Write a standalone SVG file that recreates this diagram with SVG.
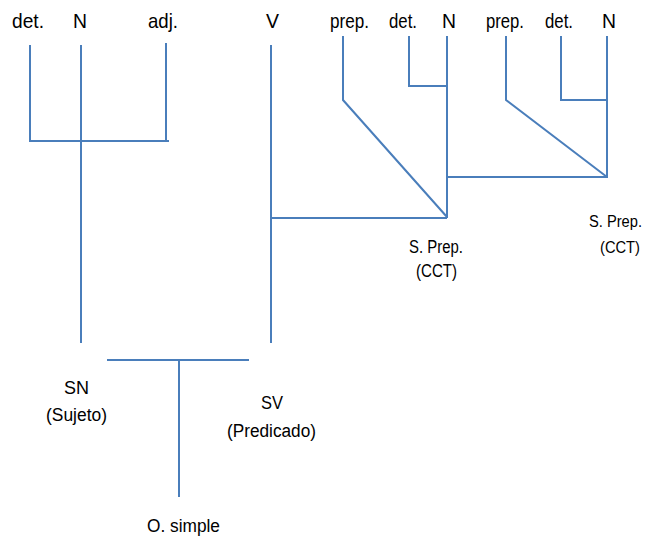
<svg xmlns="http://www.w3.org/2000/svg" width="648" height="538" viewBox="0 0 648 538">
<style>
.ln{stroke:#4A7EBB;stroke-width:2;fill:none}
.t{font-family:"Liberation Sans",Arial,sans-serif;fill:#000;text-anchor:start}
.w{font-size:21px}
.s{font-size:18px}
.e{font-size:16px}
</style>
<rect width="648" height="538" fill="#fff"/>
<g id="connectors">
<path class="ln" d="M30,45V141H169"/>
<path class="ln" d="M81,45V343"/>
<path class="ln" d="M166,43V141"/>
<path class="ln" d="M271,45V343"/>
<path class="ln" d="M271,218H447"/>
<path class="ln" d="M343,36V100L447,217"/>
<path class="ln" d="M409,36V86H447"/>
<path class="ln" d="M447,36V218"/>
<path class="ln" d="M447,177H608"/>
<path class="ln" d="M506,36V100L607,177"/>
<path class="ln" d="M561,36V100H607"/>
<path class="ln" d="M607,36V177"/>
<path class="ln" d="M107,360H249"/>
<path class="ln" d="M179,360V497"/>
</g>
<g id="w-det1"><text class="t w" x="12" y="28" textLength="32" lengthAdjust="spacingAndGlyphs">det.</text></g>
<g id="w-N1"><text class="t w" x="73" y="28" textLength="14" lengthAdjust="spacingAndGlyphs">N</text></g>
<g id="w-adj"><text class="t w" x="148" y="28" textLength="30" lengthAdjust="spacingAndGlyphs">adj.</text></g>
<g id="w-V"><text class="t w" x="266" y="28" textLength="13" lengthAdjust="spacingAndGlyphs">V</text></g>
<g id="w-prep1"><text class="t w" x="330" y="28" textLength="39" lengthAdjust="spacingAndGlyphs">prep.</text></g>
<g id="w-det2"><text class="t w" x="389" y="28" textLength="28" lengthAdjust="spacingAndGlyphs">det.</text></g>
<g id="w-N2"><text class="t w" x="442" y="28" textLength="14" lengthAdjust="spacingAndGlyphs">N</text></g>
<g id="w-prep2"><text class="t w" x="486" y="28" textLength="38" lengthAdjust="spacingAndGlyphs">prep.</text></g>
<g id="w-det3"><text class="t w" x="545" y="28" textLength="28" lengthAdjust="spacingAndGlyphs">det.</text></g>
<g id="w-N3"><text class="t w" x="602" y="28" textLength="14" lengthAdjust="spacingAndGlyphs">N</text></g>
<g id="sprep1">
<text class="t s" x="409" y="253" textLength="54" lengthAdjust="spacingAndGlyphs">S. Prep.</text>
<text class="t s" x="416" y="277" textLength="41" lengthAdjust="spacingAndGlyphs">(CCT)</text>
</g>
<g id="sprep2">
<text class="t e" x="589" y="227" textLength="53" lengthAdjust="spacingAndGlyphs">S. Prep.</text>
<text class="t e" x="600" y="253" textLength="40" lengthAdjust="spacingAndGlyphs">(CCT)</text>
</g>
<g id="sn">
<text class="t s" x="64" y="394" textLength="25" lengthAdjust="spacingAndGlyphs">SN</text>
<text class="t s" x="46" y="421" textLength="61" lengthAdjust="spacingAndGlyphs">(Sujeto)</text>
</g>
<g id="sv">
<text class="t s" x="261" y="409" textLength="22" lengthAdjust="spacingAndGlyphs">SV</text>
<text class="t s" x="227" y="437" textLength="89" lengthAdjust="spacingAndGlyphs">(Predicado)</text>
</g>
<g id="oracion">
<text class="t s" x="147" y="532" textLength="73" lengthAdjust="spacingAndGlyphs">O. simple</text>
</g>
</svg>
